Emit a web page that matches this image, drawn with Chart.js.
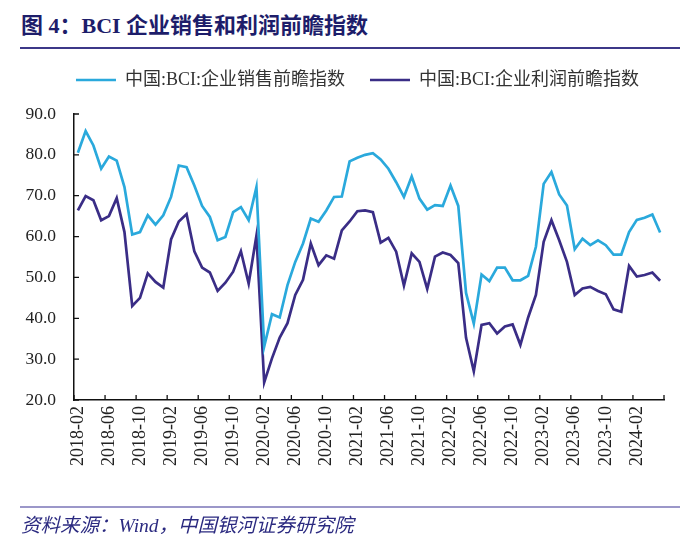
<!DOCTYPE html>
<html>
<head>
<meta charset="utf-8">
<script src="https://cdn.jsdelivr.net/npm/chart.js@4.4.1/dist/chart.umd.min.js"></script>
<style>
  body { margin: 0; background: #fff; }
  #wrap { position: relative; width: 700px; height: 542px; background: #fff; overflow: hidden; }
  #chart { position: absolute; left: 0; top: 0; }
  .title { position: absolute; left: 21px; top: 7px; font: bold 22px "Liberation Serif", "Noto Sans CJK SC", serif; color: #1d1d6a; white-space: nowrap; }
  .rule { position: absolute; left: 20px; width: 660px; }
  .rule.top { top: 47px; height: 2px; background: #3c3888; }
  .rule.bottom { top: 506px; height: 2px; background: #9b97c9; }
  .source { position: absolute; left: 21px; top: 509px; font: italic 19.5px "Liberation Serif", "Noto Sans CJK SC", serif; color: #2b2a80; white-space: nowrap; }
</style>
</head>
<body>
<div id="wrap">
  <div class="title">图 4：BCI 企业销售和利润前瞻指数</div>
  <div class="rule top"></div>
  <canvas id="chart" width="700" height="542"></canvas>
  <div class="rule bottom"></div>
  <div class="source">资料来源：Wind，中国银河证券研究院</div>
</div>
<script>
// months 2018-02 .. 2024-05
const months = [
  "2018-02","2018-03","2018-04","2018-05","2018-06","2018-07","2018-08","2018-09","2018-10","2018-11","2018-12",
  "2019-01","2019-02","2019-03","2019-04","2019-05","2019-06","2019-07","2019-08","2019-09","2019-10","2019-11","2019-12",
  "2020-01","2020-02","2020-03","2020-04","2020-05","2020-06","2020-07","2020-08","2020-09","2020-10","2020-11","2020-12",
  "2021-01","2021-02","2021-03","2021-04","2021-05","2021-06","2021-07","2021-08","2021-09","2021-10","2021-11","2021-12",
  "2022-01","2022-02","2022-03","2022-04","2022-05","2022-06","2022-07","2022-08","2022-09","2022-10","2022-11","2022-12",
  "2023-01","2023-02","2023-03","2023-04","2023-05","2023-06","2023-07","2023-08","2023-09","2023-10","2023-11","2023-12",
  "2024-01","2024-02","2024-03","2024-04","2024-05"
];

const salesIndex = [
  80.5, 85.8, 82.3, 76.6, 79.6, 78.6, 72.1, 60.5, 61.1, 65.2, 62.9,
  65.2, 69.7, 77.4, 77.0, 72.5, 67.5, 64.8, 59.1, 59.9, 66.0, 67.2, 64.0,
  72.1, 33.1, 41.0, 40.2, 48.1, 53.8, 58.3, 64.4, 63.6, 66.4, 69.7, 69.8,
  78.4, 79.3, 80.0, 80.4, 78.9, 76.6, 73.3, 69.7, 74.7, 69.3, 66.6, 67.7,
  67.5, 72.5, 67.5, 46.2, 38.7, 50.7, 49.1, 52.4, 52.4, 49.3, 49.3, 50.4,
  57.5, 72.9, 75.8, 70.3, 67.6, 56.9, 59.5, 57.9, 59.1, 57.9, 55.6, 55.6,
  61.1, 64.1, 64.6, 65.4, 61.0
];

const profitIndex = [
  66.4, 69.9, 68.9, 64.0, 65.0, 69.4, 61.1, 43.0, 45.0, 51.0, 48.9,
  47.5, 59.3, 63.7, 65.5, 56.4, 52.4, 51.2, 46.7, 48.7, 51.4, 56.4, 48.5,
  60.2, 24.3, 30.2, 35.3, 38.8, 45.7, 49.4, 58.3, 53.0, 55.4, 54.6, 61.5,
  63.7, 66.2, 66.4, 66.0, 58.5, 59.7, 56.3, 48.0, 55.9, 53.8, 47.2, 55.1,
  56.1, 55.5, 53.5, 35.2, 27.0, 38.4, 38.8, 36.3, 38.0, 38.5, 33.5, 40.2,
  45.7, 58.7, 64.0, 59.1, 53.8, 45.7, 47.3, 47.7, 46.7, 45.9, 42.2, 41.6,
  52.8, 50.2, 50.6, 51.2, 49.2
];

const seriesNames = ["中国:BCI:企业销售前瞻指数", "中国:BCI:企业利润前瞻指数"];
const yMin = 20, yMax = 90, yStep = 10;
const labelEvery = 4;

const serif = '"Liberation Serif", "Times New Roman", serif';

// short tick marks pointing into the plot, like the original
const insideTicks = {
  id: 'insideTicks',
  afterDatasetsDraw(chart) {
    const { ctx, chartArea, scales: { x, y } } = chart;
    ctx.save();
    ctx.strokeStyle = '#111';
    ctx.lineWidth = 1.3;
    ctx.beginPath();
    for (let i = 0; i <= months.length; i += labelEvery) {
      const px = x.getPixelForValue(i - 0.5);
      ctx.moveTo(px, chartArea.bottom);
      ctx.lineTo(px, chartArea.bottom - 5);
    }
    for (let v = yMin; v <= yMax; v += yStep) {
      const py = y.getPixelForValue(v);
      ctx.moveTo(chartArea.left, py);
      ctx.lineTo(chartArea.left + 5, py);
    }
    ctx.stroke();
    ctx.restore();
  }
};

new Chart(document.getElementById('chart'), {
  type: 'line',
  data: {
    labels: months,
    datasets: [{
      label: seriesNames[0],
      data: salesIndex,
      borderColor: '#2aa9dc',
      backgroundColor: '#2aa9dc',
      borderWidth: 2.7,
      pointRadius: 0,
      tension: 0
    }, {
      label: seriesNames[1],
      data: profitIndex,
      borderColor: '#3a2d86',
      backgroundColor: '#3a2d86',
      borderWidth: 2.7,
      pointRadius: 0,
      tension: 0
    }]
  },
  options: {
    responsive: false,
    animation: false,
    layout: { padding: { top: 46, left: 0, right: 36, bottom: 62 } },
    plugins: {
      legend: {
        position: 'top',
        align: 'end',
        labels: {
          usePointStyle: true,
          pointStyle: 'line',
          pointStyleWidth: 40,
          padding: 25,
          color: '#333',
          font: { family: '"Liberation Serif", "Noto Sans CJK SC", serif', size: 18 }
        }
      },
      // empty spacer between legend and plot
      title: { display: true, text: '', weight: 500, padding: 0, font: { size: 12, lineHeight: 1.25 } },
      tooltip: { enabled: false }
    },
    scales: {
      x: {
        offset: true,
        grid: { drawOnChartArea: false, drawTicks: false, offset: true },
        border: { display: true, color: '#111', width: 1.5 },
        ticks: {
          autoSkip: false,
          minRotation: 90,
          maxRotation: 90,
          padding: 6,
          color: '#222',
          font: { family: serif, size: 18 },
          callback: (v, i) => i % labelEvery === 0 ? months[i] : null
        },
        afterFit: s => { s.height = 80; }
      },
      y: {
        min: yMin,
        max: yMax,
        grid: { drawOnChartArea: false, drawTicks: false },
        border: { display: true, color: '#111', width: 1.5 },
        ticks: {
          stepSize: yStep,
          padding: 18,
          color: '#222',
          font: { family: serif, size: 17.5 },
          callback: v => v.toFixed(1)
        },
        afterFit: s => { s.width = 74; }
      }
    }
  },
  plugins: [insideTicks]
});
</script>
</body>
</html>
